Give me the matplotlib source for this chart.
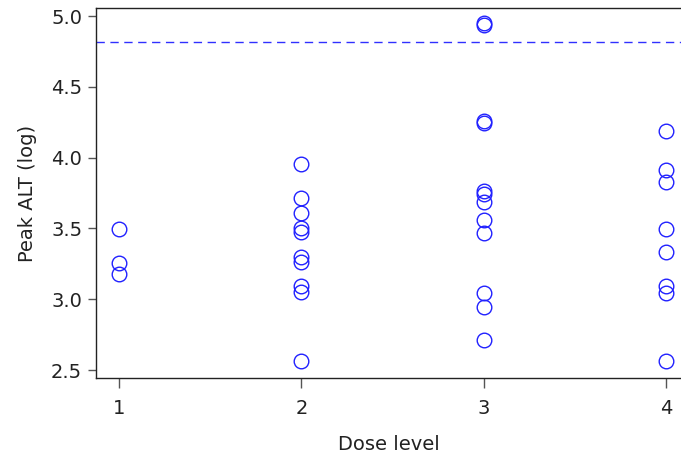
import matplotlib
matplotlib.use("Agg")
import matplotlib.pyplot as plt

dose1 = [3.496, 3.256, 3.178]
dose2 = [3.953, 3.713, 3.611, 3.501, 3.472, 3.300, 3.263, 3.096, 3.049, 2.566]
dose3 = [4.953, 4.936, 4.258, 4.246, 3.764, 3.741, 3.689, 3.557, 3.465, 3.042, 2.945, 2.710]
dose4 = [4.188, 3.912, 3.830, 3.496, 3.331, 3.093, 3.042, 2.564]
doses = [1, 2, 3, 4]
ref_line = 4.815
yticks = [2.5, 3.0, 3.5, 4.0, 4.5, 5.0]

plt.rcParams['font.family'] = ['DejaVu Sans']
fig = plt.figure(figsize=(6.81, 4.55), dpi=100)
ax = fig.add_axes([0.141, 0.169, 0.859, 0.813])

for d, vals in zip(doses, [dose1, dose2, dose3, dose4]):
    ax.plot([d] * len(vals), vals, linestyle='none', marker='o', markersize=10.5,
            markerfacecolor='none', markeredgecolor='#2020ff', markeredgewidth=1.0)

ax.axhline(ref_line, color='#3030ff', linestyle=(0, (6, 4)), linewidth=1.0)

ax.set_xlim(0.874, 4.08)
ax.set_ylim(2.443, 5.056)
ax.set_xticks(doses)
ax.set_yticks(yticks)
ax.set_yticklabels([f"{v:.1f}" for v in yticks])
ax.tick_params(axis='both', direction='out', length=6, width=1, color='#555555',
               labelsize=14, labelcolor='#222222', pad=4)
ax.tick_params(axis='x', length=7, pad=8)
for s in ['left', 'bottom', 'top']:
    ax.spines[s].set_color('#222222')
    ax.spines[s].set_linewidth(1.0)
ax.spines['right'].set_visible(False)

ax.set_xlabel('Dose level', fontsize=14, color='#222222', labelpad=12)
ax.set_ylabel('Peak ALT (log)', fontsize=14, color='#222222', labelpad=10)

fig.savefig('out.png', dpi=100)
